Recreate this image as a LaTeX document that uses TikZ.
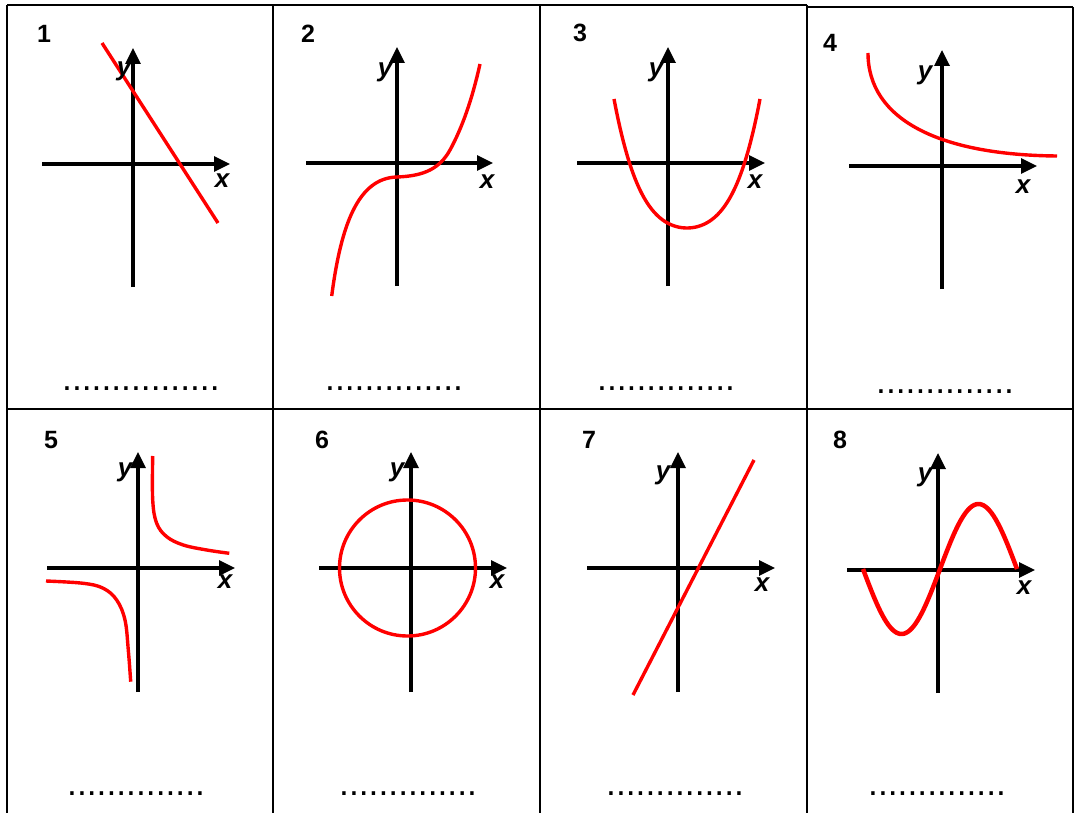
\documentclass[tikz,border=0pt]{standalone}
\usepackage{fontspec}
\setmainfont{Liberation Sans}
\usetikzlibrary{arrows.meta}
\begin{document}
\begin{tikzpicture}[x=1pt,y=-1pt,
  frame/.style={line width=2pt},
  axis/.style={line width=3.3pt,-{Triangle[length=16pt,width=15pt]}},
  curve/.style={red,line width=3.4pt},
  num/.style={font=\fontsize{25}{25}\selectfont\bfseries,inner sep=0pt},
  axlab/.style={font=\fontsize{26}{26}\selectfont\bfseries\itshape,inner sep=0pt},
  blank/.style={font=\fontsize{35.4}{35.4}\selectfont,inner sep=0pt,anchor=base west}]
\useasboundingbox (0,0) rectangle (1074,813);
% frames
\draw[frame] (7,5) -- (807,5);
\draw[frame] (807,7) -- (1073,7);
\draw[frame] (7,409) -- (1073,409);
\draw[frame] (7,5) -- (7,813);
\draw[frame] (273,5) -- (273,813);
\draw[frame] (540,5) -- (540,813);
\draw[frame] (807,5) -- (807,813);
\draw[frame] (1073,7) -- (1073,813);

% ---- cell 1
\draw[axis] (133,287) -- (133,48);
\draw[axis] (42,164) -- (230,164);
\draw[curve] (102,43) -- (218,223);
\node[num] (n1) at (44,34) {1};
\node[axlab] (y1) at (124,71) {y};
\node[axlab] (x1) at (222,181) {x};
\node[blank] (d1) at (62,390.8) {................};

% ---- cell 2
\draw[axis] (397,286) -- (397,47);
\draw[axis] (306,163) -- (493,163);
\draw[curve] (331.7,296) .. controls (341,225) and (358,178) .. (397,177)
  .. controls (425,176) and (440,168) .. (450,150)
  .. controls (462,128) and (472,100) .. (480,64);
\node[num] (n2) at (308,34) {2};
\node[axlab] (y2) at (385,72) {y};
\node[axlab] (x2) at (487,182) {x};
\node[blank] (d2) at (325,390.8) {..............};

% ---- cell 3
\draw[axis] (668,286) -- (668,47);
\draw[axis] (577,163) -- (765,163);
\draw[curve] plot[domain=-73:73,samples=70,smooth] ({687+\x},{228-0.01225*\x*\x-0.02245*(\x/10)*(\x/10)*(\x/10)*(\x/10)});
\node[num] (n3) at (580,33) {3};
\node[axlab] (y3) at (656,72) {y};
\node[axlab] (x3) at (755,182) {x};
\node[blank] (d3) at (597,390.8) {..............};

% ---- cell 4
\draw[axis] (942,289) -- (942,50);
\draw[axis] (849,166) -- (1037,166);
\draw[curve] (868,53) .. controls (868,120) and (940,155) .. (1057,156);
\node[num] (n4) at (830,43) {4};
\node[axlab] (y4) at (925,75) {y};
\node[axlab] (x4) at (1023,187) {x};
\node[blank] (d4) at (876,393.8) {..............};

% ---- cell 5
\draw[axis] (138,692) -- (138,452);
\draw[axis] (47,568) -- (235,568);
\draw[curve] plot[smooth,tension=0.6] coordinates {(152.7,456) (152.7,500) (156.7,523.3) (166.7,536.7) (183.3,545) (206.7,550) (229.3,553.3)};
\draw[curve] plot[smooth,tension=0.6] coordinates {(46,581) (83.3,583.3) (103.3,588.3) (116.7,600) (125,620) (128.3,650) (130.7,681.7)};
\node[num] (n5) at (51,440) {5};
\node[axlab] (y5) at (125,472) {y};
\node[axlab] (x5) at (225,582) {x};
\node[blank] (d5) at (67,795.8) {..............};

% ---- cell 6
\draw[axis] (411,692) -- (411,452);
\draw[axis] (319,568) -- (507,568);
\draw[curve] (407.5,568) circle[radius=68];
\node[num] (n6) at (322,440) {6};
\node[axlab] (y6) at (397,472) {y};
\node[axlab] (x6) at (497,582) {x};
\node[blank] (d6) at (339,795.8) {..............};

% ---- cell 7
\draw[axis] (678,692) -- (678,452);
\draw[axis] (587,568) -- (775,568);
\draw[curve] (633,695) -- (754,460);
\node[num] (n7) at (589,440) {7};
\node[axlab] (y7) at (663,475) {y};
\node[axlab] (x7) at (762,585) {x};
\node[blank] (d7) at (606,795.8) {..............};

% ---- cell 8
\draw[axis] (938,693) -- (938,453);
\draw[axis] (847,570) -- (1035,570);
\draw[curve,line width=4.5pt] plot[domain=0:154,samples=80,smooth] ({\x+863},{569+65*sin(2.33766*\x)});
\node[num] (n8) at (840,440) {8};
\node[axlab] (y8) at (925,477) {y};
\node[axlab] (x8) at (1024,588) {x};
\node[blank] (d8) at (868,795.8) {..............};
\end{tikzpicture}
\end{document}
